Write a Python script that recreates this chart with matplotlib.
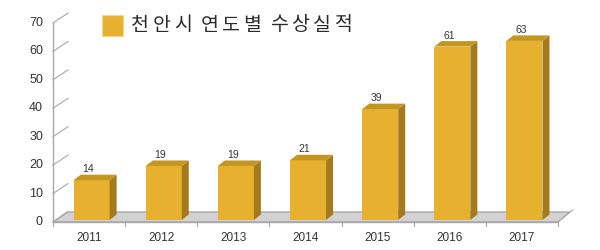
import numpy as np
import matplotlib
matplotlib.use("Agg")
import matplotlib.pyplot as plt
from matplotlib.patches import Polygon, Rectangle

# --- data ---
years = ["2011", "2012", "2013", "2014", "2015", "2016", "2017"]
awards = [14, 19, 19, 21, 39, 61, 63]
y_ticks = [0, 10, 20, 30, 40, 50, 60, 70]
title = "천안시 연도별 수상실적"

# --- colours ---
front_c = "#E6B12E"
side_c = "#A37B1D"
top_c = "#C4961F"
floor_c = "#D2D2D2"
axis_c = "#A8A8A8"
text_c = "#333333"

W, H = 600, 250
fig = plt.figure(figsize=(W / 100, H / 100), dpi=100)
x_left, x_right, y_bot, y_top = 53, 558, 222, 23
ax = fig.add_axes([x_left / W, (H - y_bot) / H, (x_right - x_left) / W, (y_bot - y_top) / H])
ax.set_xlim(-0.5, len(years) - 0.5)
ax.set_ylim(0, 70)
ax.axis("off")

# pixel -> data helpers
px_x = (x_right - x_left) / len(years)
px_y = (y_bot - y_top) / 70.0
def dx(p): return p / px_x
def dy(p): return p / px_y

xmin, xmax = -0.5, len(years) - 0.5

# floor
floor = Polygon([(xmin, 0), (xmax, 0), (xmax + dx(12), dy(10)), (xmin + dx(14), dy(10))],
                closed=True, facecolor=floor_c, edgecolor="#9A9A9A", lw=0.8, clip_on=False, zorder=1)
ax.add_patch(floor)
ax.plot([xmax + dx(12), xmax + dx(15)], [dy(10), dy(12)], color=axis_c, lw=0.8, clip_on=False)

# y axis with slanted ticks
ax.plot([xmin, xmin], [0, 70], color=axis_c, lw=1, clip_on=False, zorder=2)
for v in y_ticks:
    ax.plot([xmin, xmin + dx(15)], [v, v + dy(10)], color=axis_c, lw=0.8, clip_on=False, zorder=2)
    ax.text(xmin - dx(10), v, str(v), ha="right", va="center", fontsize=9,
            family="Liberation Sans", color=text_c)

# x axis
ax.plot([xmin, xmax], [0, 0], color=axis_c, lw=1, clip_on=False, zorder=2)
for k in range(len(years) + 1):
    ax.plot([xmin + k, xmin + k], [0, -dy(4)], color=axis_c, lw=0.8, clip_on=False)
for i, yr in enumerate(years):
    ax.text(i, -dy(16), yr, ha="center", va="center", fontsize=8.5,
            family="Liberation Sans", color=text_c)

# bars
base = dy(2)
bw = 0.5
sx, sy = dx(7), dy(5.5)
for i, v in enumerate(awards):
    x0 = i - 0.215
    x1 = x0 + bw
    top = base + v
    ax.add_patch(Rectangle((x0, base), bw, v, facecolor=front_c, edgecolor="none", zorder=3))
    ax.add_patch(Polygon([(x1, base), (x1 + sx, base + sy), (x1 + sx, top + sy), (x1, top)],
                         closed=True, facecolor=side_c, edgecolor="none", zorder=3))
    ax.add_patch(Polygon([(x0, top), (x1, top), (x1 + sx, top + sy), (x0 + sx, top + sy)],
                         closed=True, facecolor=top_c, edgecolor="none", zorder=3, clip_on=False))
    ax.text(i - 0.01, top + sy + dy(0.5), str(v), ha="center", va="bottom", fontsize=7.5,
            family="Liberation Sans", color=text_c, clip_on=False)

# legend / title (wide letter spacing, one glyph per cell)
fig.patches.append(Rectangle((102 / W, 1 - 36 / H), 21 / W, 21 / H, transform=fig.transFigure,
                             facecolor=front_c, edgecolor="#F0D890", lw=0.8))
xpos = 131
for ch in title:
    if ch == " ":
        xpos += 5
        continue
    fig.text((xpos + 9) / W, 1 - 25 / H, ch, ha="center", va="center", fontsize=14,
             family=["Noto Sans CJK KR", "DejaVu Sans"], fontweight="light", color="#2a2a2a")
    xpos += 21.5

fig.savefig("out.png", dpi=100)
